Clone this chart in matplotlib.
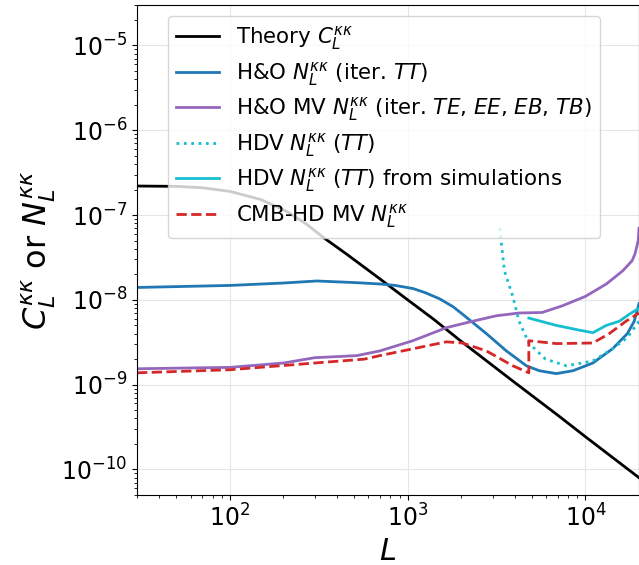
import numpy as np
import matplotlib.pyplot as plt

# Theory C_L^kk
L_th = [30, 50, 70, 100, 150, 209, 270, 337, 450, 566, 697, 1000, 1400, 2000,
        4000, 7000, 10000, 20000]
C_th = [2.2e-7, 2.18e-7, 2.1e-7, 1.9e-7, 1.52e-7, 1.1e-7, 7.8e-8, 5.4e-8, 3.5e-8, 2.45e-8,
        1.77e-8, 1.0e-8, 5.9e-9, 3.24e-9, 1.06e-9, 4.35e-10, 2.43e-10, 8e-11]

# H&O iter TT
L_ho = [30, 100, 200, 308, 500, 697, 850, 1070, 1250, 1510, 1800, 2030, 2770, 3590, 4650,
        5500, 6850, 8500, 11000, 14200, 17200, 18800, 20000]
N_ho = [1.4e-8, 1.48e-8, 1.58e-8, 1.67e-8, 1.6e-8, 1.54e-8, 1.48e-8, 1.36e-8, 1.22e-8,
        1.03e-8, 8.3e-9, 6.8e-9, 4.0e-9, 2.5e-9, 1.67e-9, 1.46e-9, 1.35e-9, 1.46e-9, 1.8e-9,
        2.65e-9, 4e-9, 5.6e-9, 9e-9]

# H&O MV iter TE, EE, EB, TB
L_mv = [30, 100, 200, 300, 517, 697, 1070, 1650, 2320, 3160, 4230, 5700, 7400, 10000,
        13100, 16200, 18300, 19000, 19800, 20000]
N_mv = [1.54e-9, 1.6e-9, 1.8e-9, 2.08e-9, 2.2e-9, 2.5e-9, 3.3e-9, 4.7e-9, 5.6e-9, 6.5e-9,
        7.0e-9, 7.1e-9, 8.5e-9, 1.1e-8, 1.54e-8, 2.2e-8, 2.9e-8, 3.5e-8, 5e-8, 7e-8]

# HDV TT (analytic)
L_hdv = [3290, 3500, 3900, 4230, 4800, 5960, 7800, 11000, 14200, 17200, 20000]
N_hdv = [7e-8, 2.2e-8, 1.1e-8, 5.6e-9, 3.1e-9, 2.0e-9, 1.67e-9, 1.9e-9, 2.65e-9, 3.6e-9,
         5.6e-9]

# HDV TT from simulations
L_sim = [4800, 6850, 9200, 11000, 13100, 15500, 17700, 20000]
N_sim = [6.1e-9, 5.0e-9, 4.4e-9, 4.1e-9, 5.0e-9, 5.6e-9, 6.8e-9, 8e-9]

# CMB-HD MV
L_hd = [30, 100, 300, 570, 697, 1070, 1650, 2030, 2770, 3900, 4800, 4800, 6850, 11000,
        13600, 16900, 20000]
N_hd = [1.38e-9, 1.5e-9, 1.8e-9, 2.0e-9, 2.2e-9, 2.65e-9, 3.2e-9, 3.1e-9, 2.5e-9, 1.67e-9,
        1.38e-9, 3.3e-9, 3.05e-9, 3.1e-9, 4e-9, 5.6e-9, 7e-9]

fig = plt.figure(figsize=(6.39, 5.65), dpi=100)
ax = fig.add_axes([137 / 639, 1 - 495 / 565, 1 - 137 / 639, 490 / 565])

ax.loglog(L_th, C_th, color='k', lw=2, label=r'Theory $C_L^{\kappa\kappa}$')
ax.loglog(L_ho, N_ho, color='#1f77b4', lw=2, label=r'H&O $N_L^{\kappa\kappa}$ (iter. $TT$)')
ax.loglog(L_mv, N_mv, color='#9467bd', lw=2,
          label=r'H&O MV $N_L^{\kappa\kappa}$ (iter. $TE$, $EE$, $EB$, $TB$)')
ax.loglog(L_hdv, N_hdv, color='#17becf', lw=2, ls=':', label=r'HDV $N_L^{\kappa\kappa}$ ($TT$)')
ax.loglog(L_sim, N_sim, color='#17becf', lw=2,
          label=r'HDV $N_L^{\kappa\kappa}$ ($TT$) from simulations')
ax.loglog(L_hd, N_hd, color='#d62728', lw=2, ls='--', label=r'CMB-HD MV $N_L^{\kappa\kappa}$')

ax.set_xlim(30, 2e4)
ax.set_ylim(5e-11, 3e-5)
ax.grid(True, color='0.9', lw=0.8)
ax.tick_params(labelsize=17)
ax.set_xlabel(r'$L$', fontsize=22)
ax.set_ylabel(r'$C_L^{\kappa\kappa}$ or $N_L^{\kappa\kappa}$', fontsize=23, labelpad=2)
ax.legend(loc='upper center', bbox_to_anchor=(0.492, 1.0), fontsize=15.4, labelspacing=0.35)

fig.savefig('out.png', dpi=100)
